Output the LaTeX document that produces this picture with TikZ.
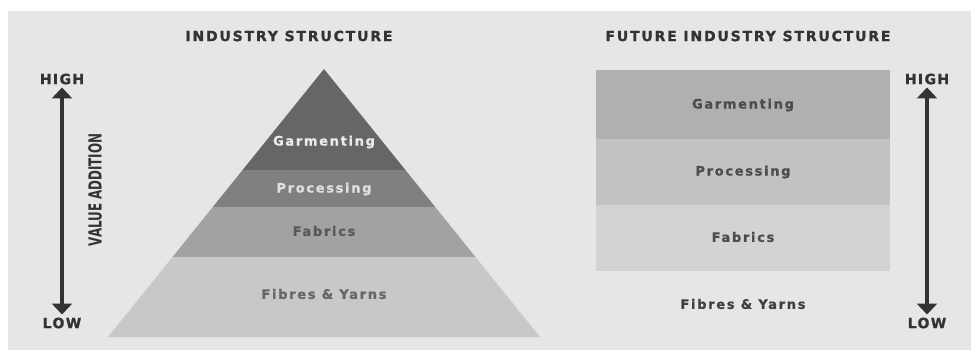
\documentclass[tikz,border=0pt]{standalone}
\usepackage{fontspec}
\setmainfont{DejaVu Sans}
\newfontfamily\titlefont[LetterSpace=13,FakeBold=1.2]{DejaVu Sans Bold}
\newfontfamily\axisfontb[LetterSpace=10,FakeBold=1.2]{DejaVu Sans Bold}
\newfontfamily\bodyfont[LetterSpace=13,FakeBold=1]{DejaVu Sans Bold}
\newfontfamily\axisfont{DejaVu Sans}
\usetikzlibrary{arrows.meta}
\definecolor{bg}{HTML}{E6E6E6}
\definecolor{ink}{HTML}{333333}
\definecolor{pA}{HTML}{666666}
\definecolor{pB}{HTML}{808080}
\definecolor{pC}{HTML}{A2A2A2}
\definecolor{pD}{HTML}{C8C8C8}
\definecolor{rA}{HTML}{B0B0B0}
\definecolor{rB}{HTML}{C2C2C2}
\definecolor{rC}{HTML}{D3D3D3}
\tikzset{
  title/.style={font=\titlefont\fontsize{14}{14}\selectfont, text=ink, inner sep=0pt},
  layer/.style={font=\bodyfont\fontsize{13}{13}\selectfont, inner sep=0pt},
  axlabel/.style={font=\axisfontb\fontsize{14}{14}\selectfont, text=ink, inner sep=0pt},
  valarrow/.style={line width=4pt, draw=ink, {Triangle[width=20pt,length=11pt]}-{Triangle[width=20pt,length=11pt]}, shorten <=3pt, shorten >=3pt},
}
\begin{document}
\begin{tikzpicture}[x=1pt,y=-1pt]
\useasboundingbox (0,0) rectangle (971,350);
\fill[white] (0,0) rectangle (971,350);
\fill[bg] (8,11) rectangle (971,350);
% titles
\node[title] (t1) at (289,36) {INDUSTRY STRUCTURE};
\node[title] (t2) at (748,36) {FUTURE INDUSTRY STRUCTURE};
% pyramid
\fill[pA] (324,69) -- (405.4,170) -- (242.6,170) -- cycle;
\fill[pB] (242.6,170) -- (405.4,170) -- (435.2,207) -- (212.8,207) -- cycle;
\fill[pC] (212.8,207) -- (435.2,207) -- (475.5,257) -- (172.5,257) -- cycle;
\fill[pD] (172.5,257) -- (475.5,257) -- (540,337) -- (108,337) -- cycle;
\node[layer, text=white!92!black] (pg) at (324,142) {Garmenting};
\node[layer, text=white!88!black] (pp) at (324,189) {Processing};
\node[layer, text=black!65] (pf) at (324,231) {Fabrics};
\node[layer, text=black!60] (py) at (324,294) {Fibres \& Yarns};
% future blocks
\fill[rA] (596,70) rectangle (890,139);
\fill[rB] (596,139) rectangle (890,205);
\fill[rC] (596,205) rectangle (890,271);
\node[layer, text=black!70] (fg) at (743,105) {Garmenting};
\node[layer, text=black!70] (fp) at (743,172) {Processing};
\node[layer, text=black!70] (ff) at (743,237) {Fabrics};
\node[layer, text=black!75] (fy) at (743,304) {Fibres \& Yarns};
% left axis
\node[axlabel] (h1) at (62,79) {HIGH};
\node[axlabel] (l1) at (62,323) {LOW};
\draw[valarrow] (h1) -- (l1);
\node[rotate=90, inner sep=0pt, text=ink] (va) at (95,190) {\scalebox{0.66}[1]{\axisfont\bfseries\fontsize{18}{18}\selectfont VALUE ADDITION}};
% right axis
\node[axlabel] (h2) at (927,79) {HIGH};
\node[axlabel] (l2) at (927,323) {LOW};
\draw[valarrow] (h2) -- (l2);
\end{tikzpicture}
\end{document}
